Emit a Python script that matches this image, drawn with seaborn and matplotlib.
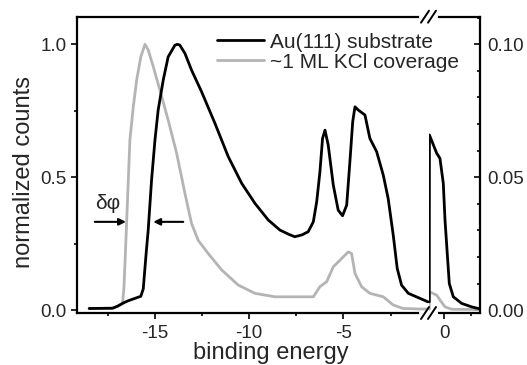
import seaborn as sns
import matplotlib
matplotlib.use('Agg')
from matplotlib import pyplot as plt
from matplotlib.lines import Line2D
from matplotlib.ticker import MultipleLocator, FixedLocator

# ---- data ----
# low binding energy part (left axis, normalized counts)
energy_au = [-18.49, -17.25, -17.0, -16.7, -16.42, -15.75, -15.62, -15.57, -15.46, -15.36,
             -15.18, -15.0, -14.83, -14.56, -14.30, -13.94, -13.80, -13.68, -13.41, -13.06,
             -12.53, -11.82, -11.11, -10.40, -9.70, -8.99, -8.37, -7.9, -7.58, -7.2,
             -6.87, -6.60, -6.42, -6.25, -6.11, -5.98, -5.81, -5.54, -5.28, -5.05,
             -4.83, -4.66, -4.51, -4.39, -4.22, -3.86, -3.60, -3.24, -2.89, -2.63,
             -2.36, -2.15, -1.92, -1.56, -0.94, -0.52]
counts_au = [0.006, 0.007, 0.014, 0.026, 0.035, 0.052, 0.08, 0.125, 0.22, 0.30,
             0.49, 0.64, 0.753, 0.866, 0.953, 0.997, 1.0, 0.997, 0.966, 0.903,
             0.822, 0.703, 0.577, 0.477, 0.402, 0.339, 0.301, 0.285, 0.276, 0.283,
             0.295, 0.332, 0.408, 0.52, 0.646, 0.677, 0.621, 0.47, 0.376, 0.355,
             0.395, 0.558, 0.709, 0.765, 0.753, 0.734, 0.646, 0.596, 0.508, 0.42,
             0.282, 0.157, 0.094, 0.063, 0.044, 0.031]

energy_kcl = [-18.49, -17.25, -17.0, -16.72, -16.65, -16.59, -16.45, -16.33, -16.15, -15.97,
              -15.75, -15.53, -15.36, -15.09, -14.74, -14.30, -13.85, -13.41, -13.06, -12.71,
              -12.18, -11.46, -10.58, -9.70, -8.64, -7.5, -6.60, -6.25, -5.89, -5.54,
              -5.18, -4.75, -4.57, -4.39, -4.04, -3.60, -2.89, -2.36, -1.83, -0.94, -0.52]
counts_kcl = [0.006, 0.007, 0.014, 0.024, 0.08, 0.176, 0.426, 0.64, 0.765, 0.866,
              0.953, 1.0, 0.979, 0.916, 0.828, 0.715, 0.59, 0.439, 0.326, 0.263,
              0.213, 0.151, 0.094, 0.063, 0.05, 0.05, 0.05, 0.088, 0.107, 0.163,
              0.188, 0.219, 0.213, 0.138, 0.088, 0.063, 0.05, 0.019, 0.006, 0.004, 0.004]

# Fermi edge part (right axis)
energy_au_fermi = [-0.545, -0.54, -0.27, -0.15, -0.026, 0.037, 0.137, 0.196, 0.344, 0.656, 1.026, 1.27, 1.333]
counts_au_fermi = [0.0031, 0.0659, 0.059, 0.0571, 0.0477, 0.0339, 0.0188, 0.010, 0.005, 0.0025, 0.0012, 0.0006, 0.0005]

energy_kcl_fermi = [-0.545, -0.54, -0.27, -0.15, 0.037, 0.285, 1.333]
counts_kcl_fermi = [0.0004, 0.0069, 0.0056, 0.0038, 0.0012, 0.0003, 0.0002]

label_au = 'Au(111) substrate'
label_kcl = '~1 ML KCl coverage'

sns.set_style('ticks')
plt.rcParams['font.family'] = ['Liberation Sans', 'DejaVu Sans']
plt.rcParams['axes.unicode_minus'] = False

W, H = 527, 365
fig = plt.figure(figsize=(W / 100, H / 100), dpi=100)

left, brk, right = 77.3 / W, 428.5 / W, 480 / W
bottom, top = (H - 313) / H, (H - 16.7) / H
ax1 = fig.add_axes([left, bottom, brk - left, top - bottom])
ax2 = fig.add_axes([brk, bottom, right - brk, top - bottom])
ax2.patch.set_visible(False)

black = '#000000'
grey = '#b4b4b4'
lw = 2.0

sns.lineplot(x=energy_kcl, y=counts_kcl, color=grey, lw=lw, ax=ax1, estimator=None, sort=False, label=label_kcl)
sns.lineplot(x=energy_au, y=counts_au, color=black, lw=lw, ax=ax1, estimator=None, sort=False, label=label_au)
sns.lineplot(x=energy_kcl_fermi, y=counts_kcl_fermi, color=grey, lw=lw, ax=ax2, estimator=None, sort=False, legend=False)
sns.lineplot(x=energy_au_fermi, y=counts_au_fermi, color=black, lw=lw, ax=ax2, estimator=None, sort=False, legend=False)

ax1.set_xlim(-19.12, -0.49)
ax1.set_ylim(-0.011, 1.104)
ax2.set_xlim(-0.574, 1.333)
ax2.set_ylim(-0.0011, 0.1104)

for a in (ax1, ax2):
    for s in a.spines.values():
        s.set_linewidth(1.6)
        s.set_color('black')
    a.set_xlabel('')
    a.set_ylabel('')
ax1.spines['right'].set_visible(False)
ax2.spines['left'].set_visible(False)

ax1.xaxis.set_major_locator(FixedLocator([-15, -10, -5]))
ax1.xaxis.set_minor_locator(FixedLocator([-17.5, -12.5, -7.5, -2.5]))
ax1.yaxis.set_major_locator(MultipleLocator(0.5))
ax1.yaxis.set_minor_locator(MultipleLocator(0.25))
ax1.yaxis.set_major_formatter(matplotlib.ticker.FormatStrFormatter('%.1f'))
ax1.tick_params(which='both', direction='out', width=1.4, labelsize=13.5, pad=3.6, right=False)
ax1.tick_params(which='major', length=4)
ax1.tick_params(which='minor', length=2.5)
ax1.tick_params(axis='x', pad=4.5)

ax2.xaxis.set_major_locator(FixedLocator([0]))
ax2.xaxis.set_minor_locator(FixedLocator([1]))
ax2.yaxis.set_major_locator(MultipleLocator(0.05))
ax2.yaxis.set_minor_locator(MultipleLocator(0.01))
ax2.yaxis.set_major_formatter(matplotlib.ticker.FormatStrFormatter('%.2f'))
ax2.yaxis.tick_right()
ax2.tick_params(axis='y', which='both', direction='in', width=1.4, labelsize=13.5, pad=5.3, left=False)
ax2.tick_params(axis='x', which='both', direction='out', width=1.4, labelsize=13.5, pad=4.5)
ax2.tick_params(which='major', length=4)
ax2.tick_params(which='minor', length=2.5)

# legend
handles, labels = ax1.get_legend_handles_labels()
order = [labels.index(label_au), labels.index(label_kcl)]
leg = ax1.legend([handles[i] for i in order], [labels[i] for i in order],
                 loc='center left', bbox_to_anchor=(216.7 / W, (H - 52.2) / H), bbox_transform=fig.transFigure,
                 frameon=False, fontsize=15, handlelength=2.25, handletextpad=0.33,
                 labelspacing=0.05, borderpad=0, borderaxespad=0)
leg.set_zorder(10)

# work function shift
ax1.text(-17.53, 0.40, 'δφ', ha='center', va='center', fontsize=15)
arrow = dict(arrowstyle='-|>', color='black', lw=1.5, mutation_scale=10, shrinkA=0, shrinkB=0)
ax1.annotate('', xy=(-16.54, 0.332), xytext=(-18.19, 0.332), arrowprops=arrow)
ax1.annotate('', xy=(-15.09, 0.332), xytext=(-13.50, 0.332), arrowprops=arrow)

# axis labels
fig.text(270.5 / W, (H - 359) / H, 'binding energy', ha='center', va='baseline', fontsize=17)
fig.text(24.5 / W, (H - 172.5) / H, 'normalized counts', ha='center', va='center', rotation=90, fontsize=17)


# break marks
def px(x, y):
    return x / W, (H - y) / H


for yb in (16.7, 313):
    x0, y0 = px(421, yb)
    x1, y1 = px(436, yb)
    fig.add_artist(Line2D([x0, x1], [y0, y1], color='white', lw=3, transform=fig.transFigure))
    for dx in (0, 7):
        xa, ya = px(421 + dx, yb + 6)
        xb, yb2 = px(429 + dx, yb - 6)
        fig.add_artist(Line2D([xa, xb], [ya, yb2], color='black', lw=1.4, transform=fig.transFigure))

fig.savefig('out.png', dpi=100)
